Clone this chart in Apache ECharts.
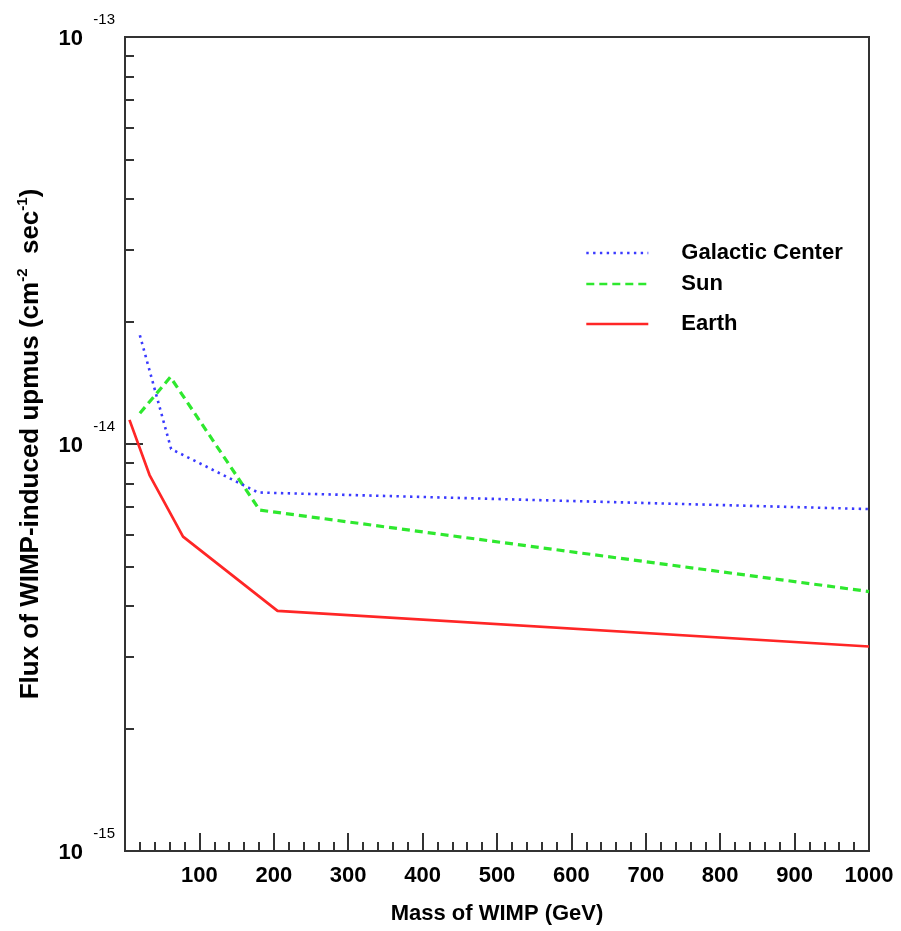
<!DOCTYPE html>
<html>
<head>
<meta charset="utf-8">
<script src="https://cdn.jsdelivr.net/npm/echarts@6/dist/echarts.min.js"></script>
<style>
html,body{margin:0;padding:0;background:#fff;}
#chart{width:901px;height:931px;}
</style>
</head>
<body>
<div id="chart"></div>
<script>
// ---- data ----
const seriesNames = ['Galactic Center', 'Sun', 'Earth'];
const gcMass = [20, 62, 179, 1000];
const gcFlux = [1.85e-14, 9.72e-15, 7.60e-15, 6.92e-15];
const sunMass = [20, 61, 181, 1000];
const sunFlux = [1.19e-14, 1.46e-14, 6.88e-15, 4.34e-15];
const earthMass = [6, 33, 78, 205, 1000];
const earthFlux = [1.146e-14, 8.39e-15, 5.92e-15, 3.89e-15, 3.18e-15];
const yMajorTicks = [1e-15, 1e-14, 1e-13];
const yMinorTicks = [2e-15, 3e-15, 4e-15, 5e-15, 6e-15, 7e-15, 8e-15, 9e-15,
                     2e-14, 3e-14, 4e-14, 5e-14, 6e-14, 7e-14, 8e-14, 9e-14];
const xMin = 0, xMax = 1000, xInterval = 100;

const FONT = '"Liberation Sans", Arial, Helvetica, sans-serif';
const AX = '#333';

function pairs(xs, ys) { return xs.map((x, i) => [x, ys[i]]); }

const chart = echarts.init(document.getElementById('chart'), null, {renderer: 'canvas'});

const legendBase = {
  left: 585,
  padding: 0,
  itemWidth: 62,
  itemHeight: 14,
  itemGap: 0,
  itemStyle: {opacity: 0},
  lineStyle: {width: 2.6},
  textStyle: {fontSize: 22, fontWeight: 'bold', fontFamily: FONT, color: '#000', padding: [0, 0, 0, 28]}
};

chart.setOption({
  animation: false,
  backgroundColor: '#fff',
  grid: {left: 125, right: 32, top: 37, bottom: 80, show: true, borderColor: AX, borderWidth: 2, backgroundColor: 'transparent'},
  legend: [
    Object.assign({}, legendBase, {data: [seriesNames[0]], top: 242}),
    Object.assign({}, legendBase, {data: [seriesNames[1]], top: 273}),
    Object.assign({}, legendBase, {data: [seriesNames[2]], top: 313})
  ],
  xAxis: {
    type: 'value', min: xMin, max: xMax, interval: xInterval,
    name: 'Mass of WIMP (GeV)', nameLocation: 'middle', nameGap: 52,
    nameTextStyle: {fontSize: 22, fontWeight: 'bold', fontFamily: FONT, color: '#000'},
    axisLine: {lineStyle: {color: AX, width: 2}},
    axisTick: {inside: true, length: 18, lineStyle: {color: AX, width: 2}},
    minorTick: {show: true, splitNumber: 5, length: 9, lineStyle: {color: AX, width: 2}},
    splitLine: {show: false},
    axisLabel: {fontSize: 22, fontWeight: 'bold', fontFamily: FONT, color: '#000', margin: 14, lineHeight: 22,
      formatter: v => (v === 0 ? '' : String(v))}
  },
  yAxis: [
    {
      type: 'log', logBase: 10, min: yMajorTicks[0], max: yMajorTicks[2],
      name: 'Flux of WIMP-induced upmus (cm{sup|-2}  sec{sup|-1})',
      nameLocation: 'middle', nameRotate: 90, nameGap: 78,
      nameTextStyle: {fontSize: 26, fontWeight: 'bold', fontFamily: FONT, color: '#000', lineHeight: 32,
        rich: {sup: {fontSize: 15, fontFamily: FONT, color: '#000', verticalAlign: 'top', lineHeight: 15}}},
      axisLine: {lineStyle: {color: AX, width: 2}},
      axisTick: {inside: true, length: 18, lineStyle: {color: AX, width: 2}},
      splitLine: {show: false},
      axisLabel: {
        margin: 10,
        formatter: v => {
          const e = Math.round(Math.log10(v));
          return '{sp1| }{s|' + e + '}\n{b|10}{sp2| }';
        },
        rich: {
          sp1: {width: 31, lineHeight: 3, fontSize: 3},
          s: {width: 26, lineHeight: 3, fontSize: 15, fontFamily: FONT, color: '#000'},
          b: {width: 25, lineHeight: 34, fontSize: 22, fontWeight: 'bold', fontFamily: FONT, color: '#000'},
          sp2: {width: 32, lineHeight: 34, fontSize: 3}
        }
      }
    },
    {
      // hidden helper axis in exponent space, used only to draw the log minor ticks
      type: 'value', min: Math.log10(yMajorTicks[0]), max: Math.log10(yMajorTicks[2]), interval: 1,
      position: 'left', offset: 0,
      axisLine: {show: false},
      axisLabel: {show: false},
      splitLine: {show: false},
      axisTick: {show: true, inside: true, length: 9, lineStyle: {color: AX, width: 2},
        customValues: yMinorTicks.map(v => Math.log10(v))}
    }
  ],
  series: [
    {name: seriesNames[0], type: 'line', symbol: 'none', data: pairs(gcMass, gcFlux),
      itemStyle: {color: '#3a3aff'}, lineStyle: {color: '#3a3aff', width: 2.6, type: [2.4, 4.4]}, z: 3},
    {name: seriesNames[1], type: 'line', symbol: 'none', data: pairs(sunMass, sunFlux),
      itemStyle: {color: '#2ee82e'}, lineStyle: {color: '#2ee82e', width: 3.2, type: [8, 5]}, z: 2},
    {name: seriesNames[2], type: 'line', symbol: 'none', data: pairs(earthMass, earthFlux),
      itemStyle: {color: '#ff2626'}, lineStyle: {color: '#ff2626', width: 2.7}, z: 4}
  ]
});
</script>
</body>
</html>
